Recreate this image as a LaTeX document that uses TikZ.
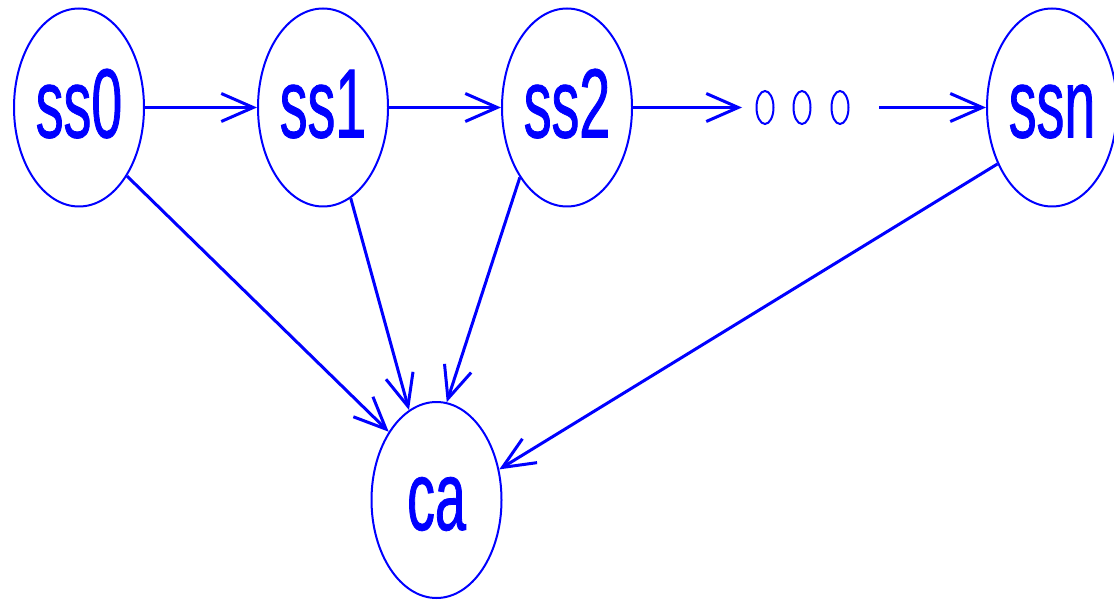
\documentclass[tikz,border=0pt]{standalone}
\usepackage{fontspec}
\usetikzlibrary{shapes.geometric,arrows.meta}
\newfontfamily\narrowsf[FakeStretch=0.565,FakeBold=0.8]{Liberation Sans}
\definecolor{sblue}{RGB}{0,0,255}

\begin{document}
\begin{tikzpicture}[line width=0.04cm, sblue]
    \tikzset{%
      sstate/.style={ellipse, draw, inner sep=0pt, minimum
        width=2.6cm, minimum height=3.96cm, text height=1.4cm,
        text depth=0.2cm, font=\narrowsf\fontsize{56}{56}\selectfont},
      ldot/.style={ellipse, draw, inner sep=0pt, minimum
        width=0.34cm, minimum height=0.66cm},
      link/.style={line width=0.06cm,
        -{Straight Barb[length=0.64cm,width=0.56cm]}},
    }
    \useasboundingbox (0,0) rectangle (22.28,12);
    \node[sstate] (S0) at (1.58,9.85) {ss0};
    \node[sstate] (S1) at (6.46,9.85) {ss1};
    \node[sstate] (S2) at (11.34,9.85) {ss2};
    \node[ldot] (D1) at (15.30,9.85) {};
    \node[ldot] (D2) at (16.04,9.85) {};
    \node[ldot] (D3) at (16.80,9.85) {};
    \node[sstate] (SN) at (21.04,9.85) {ssn};
    \node[sstate, minimum height=3.92cm] (CA) at (8.73,2.0) {ca};

    \draw [link] (S0) -- (S1);
    \draw [link] (S1) -- (S2);
    \draw [link, shorten >=0.27cm] (S2) -- (D1);
    \draw [link, shorten <=0.59cm] (D3) -- (SN);

    \draw [link] (S0.-55) -- (CA.125);
    \draw [link] (S1.-73) -- (CA.107);
    \draw [link] (S2.-124) -- (CA.84);
    \draw [link] (SN.-134) -- (CA.26);
  \end{tikzpicture}
\end{document}
